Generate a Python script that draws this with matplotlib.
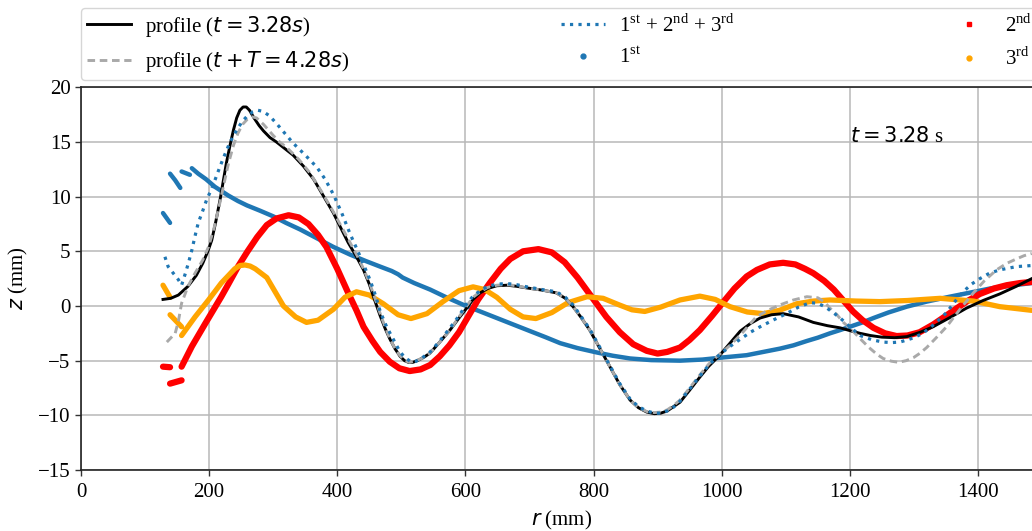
import numpy as np
import matplotlib
matplotlib.use("Agg")
import matplotlib.pyplot as plt
from matplotlib.lines import Line2D

plt.rcParams["font.family"] = ["Liberation Serif", "DejaVu Sans"]
plt.rcParams["mathtext.fontset"] = "custom"
plt.rcParams["mathtext.rm"] = "DejaVu Sans"
plt.rcParams["mathtext.it"] = "DejaVu Sans:italic"
plt.rcParams["mathtext.bf"] = "DejaVu Sans:bold"
plt.rcParams["mathtext.sf"] = "Liberation Serif"

nan = np.nan

# measured free-surface profile at t = 3.28 s
r_profile = [128, 140, 152, 167, 180, 190, 198, 204, 210, 217, 222, 227, 233, 238, 243,
             248, 253, 258, 263, 270, 278, 285, 295, 305, 318, 331, 347, 363, 378, 394,
             405, 417, 430, 441, 450, 458, 467, 475, 482, 490, 498, 505, 511, 518, 525,
             535, 545, 560, 576, 590, 602, 612, 623, 635, 649, 665, 680, 696, 720, 742,
             756, 768, 780, 794, 810, 826, 841, 857, 870, 883, 895, 905, 915, 925, 935,
             950, 966, 980, 997, 1013, 1029, 1045, 1060, 1078, 1096, 1120, 1143, 1165, 1185,
             1200, 1216, 1232, 1250, 1270, 1289, 1310, 1330, 1355, 1382, 1408, 1434, 1460, 1484]
z_profile = [0.6, 0.7, 1.0, 1.8, 2.8, 3.9, 5.0, 6.0, 7.6, 9.7, 11.4, 13.1, 14.8, 16.1, 17.2,
             17.9, 18.2, 18.2, 17.9, 17.2, 16.5, 16.0, 15.4, 15.0, 14.4, 13.8, 12.8, 11.6, 10.1, 8.5,
             7.2, 5.8, 4.5, 3.3, 2.0, 0.6, -0.9, -2.1, -3.0, -3.9, -4.6, -5.0, -5.15, -5.15, -5.0,
             -4.7, -4.3, -3.3, -2.2, -1.1, -0.2, 0.6, 1.2, 1.6, 1.85, 1.9, 1.8, 1.65, 1.45, 1.2,
             0.7, -0.06, -1.0, -2.2, -3.9, -5.6, -7.2, -8.6, -9.3, -9.7, -9.85, -9.8, -9.6, -9.2, -8.8,
             -7.7, -6.5, -5.5, -4.5, -3.4, -2.3, -1.6, -1.1, -0.8, -0.7, -1.0, -1.5, -1.8, -2.0,
             -2.25, -2.5, -2.7, -2.85, -2.9, -2.8, -2.4, -1.9, -1.1, -0.2, 0.5, 1.1, 1.8, 2.5]

# profile one period later, t + T = 4.28 s
r_later = [134, 147, 152, 157, 167, 178, 190, 199, 208, 217, 224, 230, 238, 245, 252,
           260, 267, 274, 285, 300, 310, 321, 340, 357, 375, 394, 407, 420, 431, 441,
           451, 460, 470, 482, 493, 505, 513, 520, 532, 545, 560, 576, 590, 602, 612,
           623, 635, 649, 665, 680, 696, 720, 742, 756, 768, 780, 794, 810, 826, 841,
           857, 870, 883, 895, 905, 915, 925, 935, 950, 966, 980, 997, 1013, 1030, 1054,
           1072, 1091, 1112, 1133, 1150, 1160, 1169, 1180, 1190, 1205, 1218, 1230, 1242, 1252,
           1265, 1276, 1288, 1300, 1310, 1320, 1335, 1351, 1372, 1393, 1410, 1429, 1445, 1460,
           1472, 1484]
z_later = [-3.3, -2.5, -1.4, 0.25, 1.8, 3.0, 4.2, 5.4, 7.2, 9.5, 11.4, 13.0, 14.7, 15.8, 16.6,
           17.1, 17.3, 17.2, 16.6, 15.6, 15.0, 14.5, 13.4, 12.2, 10.5, 8.6, 7.2, 5.8, 4.6, 3.4,
           2.0, 0.5, -1.2, -3.0, -4.2, -5.0, -5.15, -5.05, -4.8, -4.3, -3.3, -2.2, -1.0, 0.0, 0.8,
           1.3, 1.7, 1.9, 1.95, 1.85, 1.65, 1.45, 1.2, 0.7, -0.06, -1.0, -2.2, -3.9, -5.6, -7.2,
           -8.6, -9.3, -9.65, -9.75, -9.7, -9.5, -9.1, -8.6, -7.5, -6.3, -5.3, -4.4, -3.6, -2.6, -1.0,
           -0.4, 0.1, 0.55, 0.85, 0.75, 0.4, -0.2, -0.8, -1.5, -2.3, -3.1, -3.8, -4.4, -4.8,
           -5.05, -5.15, -5.0, -4.7, -4.3, -3.8, -2.9, -1.9, -0.3, 1.2, 2.3, 3.3, 3.9, 4.3,
           4.6, 4.8]

# sum of the first three harmonics
r_sum = [131, 136, 144, 152, 157, 163, 168, 173, 178, 183, 190, 196, 203, 209, 216,
         222, 232, 243, 252, 260, 268, 276, 284, 294, 305, 318, 331, 350, 368, 381,
         394, 407, 420, 436, 451, 460, 467, 477, 488, 497, 505, 515, 523, 530, 545,
         560, 576, 590, 602, 612, 623, 635, 649, 665, 680, 696, 720, 742, 756, 768,
         780, 794, 810, 826, 841, 857, 870, 883, 895, 905, 915, 925, 935, 950, 966,
         980, 990, 1000, 1013, 1030, 1045, 1060, 1080, 1101, 1120, 1138, 1150, 1162, 1174,
         1185, 1200, 1216, 1235, 1252, 1265, 1278, 1290, 1300, 1314, 1325, 1335, 1351, 1364,
         1377, 1390, 1403, 1418, 1434, 1460, 1484]
z_sum = [4.5, 3.6, 3.0, 2.4, 1.9, 3.0, 4.0, 5.1, 6.4, 7.6, 8.7, 9.7, 10.6, 11.5, 12.6,
         13.5, 14.9, 16.1, 16.9, 17.4, 17.75, 17.9, 17.8, 17.4, 16.7, 15.8, 14.9, 13.8, 12.7, 11.6,
         10.2, 8.5, 6.6, 4.5, 2.4, 0.9, -0.5, -1.9, -3.1, -4.1, -4.7, -5.1, -5.05, -4.85, -4.2,
         -3.2, -2.0, -0.9, 0.2, 0.9, 1.4, 1.8, 2.0, 2.05, 1.95, 1.75, 1.5, 1.3, 0.8, 0.1,
         -0.9, -2.1, -3.8, -5.5, -7.1, -8.5, -9.2, -9.6, -9.8, -9.8, -9.6, -9.25, -8.7, -7.6, -6.4,
         -5.4, -4.8, -4.3, -3.7, -3.0, -2.4, -1.9, -1.3, -0.7, -0.1, 0.3, 0.25, -0.1, -0.6,
         -1.1, -1.9, -2.7, -3.1, -3.3, -3.35, -3.3, -3.1, -2.9, -2.5, -2.0, -1.5, -0.6, 0.4,
         1.3, 2.0, 2.5, 3.0, 3.3, 3.6, 3.7]

# first harmonic (NaN separates detached segments near the inner edge)
r_1st = [128, 139, nan, 139, 147, 155, nan, 157, 170, nan,
         173, 183, 195, 209, 230, 245, 259, 280, 300, 320, 342, 368, 394, 420, 445,
         467, 485, 495, 502, 520, 545, 570, 597, 623, 649, 675, 701, 725, 748, 775,
         805, 830, 857, 890, 935, 970, 1003, 1039, 1065, 1091, 1112, 1133, 1150, 1169, 1185,
         1200, 1220, 1237, 1260, 1289, 1320, 1356, 1390, 1419, 1450, 1484]
z_1st = [8.5, 7.6, nan, 12.1, 11.5, 10.8, nan, 12.3, 12.0, nan,
         12.6, 12.1, 11.6, 10.9, 10.1, 9.6, 9.2, 8.7, 8.2, 7.6, 7.0, 6.2, 5.4, 4.7, 4.1,
         3.6, 3.2, 2.9, 2.6, 2.1, 1.5, 0.8, 0.1, -0.5, -1.1, -1.7, -2.3, -2.85, -3.4, -3.85,
         -4.25, -4.55, -4.8, -4.95, -5.0, -4.9, -4.7, -4.5, -4.2, -3.9, -3.6, -3.2, -2.9, -2.5, -2.2,
         -1.9, -1.5, -1.1, -0.6, -0.06, 0.4, 0.85, 1.25, 1.6, 1.85, 2.1]

# second harmonic
r_2nd = [128, 139, nan, 139, 157, nan,
         157, 173, 194, 219, 230, 245, 260, 275, 290, 305, 324, 340, 355, 370, 383,
         400, 417, 430, 441, 455, 467, 482, 497, 513, 530, 545, 560, 575, 590, 605,
         620, 638, 655, 670, 690, 714, 735, 755, 775, 800, 820, 841, 862, 883, 900,
         915, 935, 950, 966, 985, 1003, 1020, 1039, 1055, 1075, 1096, 1115, 1130, 1143, 1160,
         1175, 1190, 1205, 1220, 1237, 1255, 1273, 1290, 1309, 1330, 1350, 1367, 1385, 1403,
         1425, 1445, 1466, 1484]
z_2nd = [-5.55, -5.6, nan, -7.1, -6.8, nan,
         -5.55, -3.7, -1.6, 0.85, 2.0, 3.6, 5.0, 6.3, 7.4, 8.0, 8.3, 8.1, 7.5, 6.5, 5.4,
         3.4, 1.2, -0.4, -1.9, -3.2, -4.2, -5.1, -5.7, -5.95, -5.8, -5.4, -4.6, -3.6, -2.4, -0.9,
         0.6, 2.1, 3.4, 4.3, 5.0, 5.2, 4.9, 4.0, 2.6, 0.6, -1.0, -2.4, -3.5, -4.1, -4.35,
         -4.2, -3.8, -3.1, -2.2, -0.9, 0.4, 1.6, 2.7, 3.3, 3.8, 3.95, 3.8, 3.4, 3.0, 2.3,
         1.5, 0.5, -0.5, -1.3, -2.0, -2.5, -2.75, -2.7, -2.4, -1.7, -0.9, -0.2, 0.5, 1.1,
         1.6, 1.9, 2.1, 2.2]

# third harmonic
r_3rd = [128, 139, nan, 139, 157, nan,
         157, 178, 199, 219, 240, 248, 256, 264, 272, 290, 316, 335, 352, 370, 394, 412,
         430, 450, 472, 495, 515, 540, 565, 590, 612, 630, 649, 670, 690, 710, 735, 760,
         790, 815, 840, 860, 880, 905, 935, 966, 990, 1013, 1040, 1065, 1090, 1117, 1143, 1169,
         1210, 1247, 1290, 1341, 1393, 1434, 1484]
z_3rd = [1.9, 0.8, nan, -0.8, -1.9, nan,
         -2.7, -1.0, 0.55, 2.1, 3.4, 3.7, 3.75, 3.65, 3.4, 2.6, 0.0, -1.0, -1.5, -1.3, -0.3, 0.8,
         1.3, 1.0, 0.2, -0.8, -1.15, -0.7, 0.4, 1.4, 1.75, 1.5, 0.8, -0.3, -1.0, -1.15, -0.6, 0.3,
         0.85, 0.7, 0.1, -0.35, -0.5, -0.1, 0.55, 0.9, 0.6, -0.06, -0.55, -0.7, -0.4, 0.2, 0.45, 0.55,
         0.45, 0.4, 0.5, 0.7, 0.45, -0.06, -0.4]

x_ticks = [0, 200, 400, 600, 800, 1000, 1200, 1400]
y_ticks = [-15, -10, -5, 0, 5, 10, 15, 20]

c_blue = "#1f77b4"
c_red = "#ff0000"
c_orange = "#ffa500"
c_gray = "#a9a9a9"

fig = plt.figure(figsize=(10.32, 5.31), dpi=100)
ax = fig.add_axes([81 / 1032, 61 / 531, 961 / 1032, 382.7 / 531])

# harmonic components (drawn beneath the profiles)
comp_kw = dict(solid_capstyle="round", solid_joinstyle="round", zorder=1)
ax.plot(r_1st, z_1st, color=c_blue, lw=3.2, **comp_kw)
ax.plot(r_2nd, z_2nd, color=c_red, lw=4.5, **comp_kw)
ax.plot(r_3rd, z_3rd, color=c_orange, lw=3.8, **comp_kw)

# profiles and reconstruction
ax.plot(r_profile, z_profile, color="black", lw=2.1, zorder=2)
ax.plot(r_later, z_later, color=c_gray, lw=2.1, dashes=(2.6, 1.6), zorder=2)
ax.plot(r_sum, z_sum, color=c_blue, lw=2.3, ls=":", zorder=2)

ax.set_xlim(0, 1500)
ax.set_ylim(-15, 20)
ax.set_xticks(x_ticks)
ax.set_yticks(y_ticks)
ax.tick_params(labelsize=15, length=4, width=1, color="#333333")
ax.tick_params(axis="x", pad=5.5)
ax.grid(True, color="#b8b8b8", lw=1.1)
ax.set_axisbelow(True)
for side in ["left", "bottom", "top"]:
    ax.spines[side].set_color("#222222")
    ax.spines[side].set_linewidth(1.2)

ax.set_xlabel("$r$ (mm)", fontsize=15, labelpad=5)
ax.set_ylabel("$z$ (mm)", fontsize=15, labelpad=6)

ax.text(1200, 15, "$t = 3.28$ s", fontsize=15, ha="left", va="baseline")

handles = [
    Line2D([], [], color="black", lw=2.1),
    Line2D([], [], color=c_gray, lw=2.1, dashes=(2.6, 1.6)),
    Line2D([], [], color=c_blue, lw=2.3, ls=":"),
    Line2D([], [], color=c_blue, ls="none", marker="o", ms=3.5),
    Line2D([], [], color=c_red, ls="none", marker="s", ms=3.5),
    Line2D([], [], color=c_orange, ls="none", marker="o", ms=3.5),
]
labels = [
    "profile ($t = 3.28s$)",
    "profile ($t + T = 4.28s$)",
    r"1$^{\mathsf{st}}$ + 2$^{\mathsf{nd}}$ + 3$^{\mathsf{rd}}$",
    r"1$^{\mathsf{st}}$",
    r"2$^{\mathsf{nd}}$",
    r"3$^{\mathsf{rd}}$",
]
ax.legend(handles, labels, ncol=3, loc="lower left", mode="expand",
          bbox_to_anchor=(0, 1.019, 0.996, 0.2), borderaxespad=0, fontsize=15,
          handlelength=2.1, handletextpad=0.7, labelspacing=0.5, borderpad=0.28,
          edgecolor="#cccccc", fancybox=True)

fig.savefig("out.png", dpi=100)
